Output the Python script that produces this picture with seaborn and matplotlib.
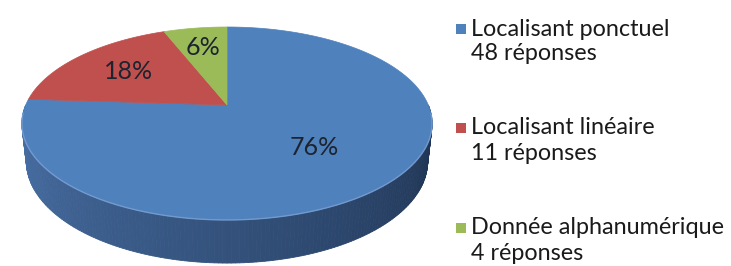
import numpy as np
import matplotlib
matplotlib.use("Agg")
import matplotlib.pyplot as plt
from matplotlib.patches import Rectangle
import seaborn as sns

# data
categories = ["Localisant ponctuel", "Localisant linéaire", "Donnée alphanumérique"]
responses = [48, 11, 4]
percents = [76, 18, 6]

sns.set_theme(style="white")
plt.rcParams["font.family"] = ["Lato", "DejaVu Sans"]
colors = sns.color_palette(["#4f81bd", "#c0504d", "#9bbb59"])

# perspective settings for the 3D-looking pie
elev = np.radians(27.5)
dist = 4.63
focal = 932
thick = 0.214
cx, cy = 227, 105


def proj(X, Y, Z):
    s, c = np.sin(elev), np.cos(elev)
    yc = Y * s + Z * c
    zc = dist + Y * c - Z * s
    return cx + focal * X / zc, cy - focal * yc / zc


fig = plt.figure(figsize=(7.31, 2.66), dpi=100)
ax = fig.add_axes([0, 0, 1, 1])
ax.set_xlim(0, 731)
ax.set_ylim(266, 0)
ax.axis("off")

# side wall, front half, shaded from left to right
wall_left = np.array([75, 116, 171]) / 255
wall_right = np.array([28, 47, 76]) / 255
edges = np.radians(np.linspace(180, 360, 181))
strips = []
for t0, t1 in zip(edges[:-1], edges[1:]):
    tm = (t0 + t1) / 2
    f = (tm - np.pi) / np.pi
    col = wall_left * (1 - f) + wall_right * f
    xs, ys = [], []
    for t, z in [(t0, 0), (t1, 0), (t1, -thick), (t0, -thick)]:
        x, y = proj(np.cos(t), np.sin(t), z)
        xs.append(x)
        ys.append(y)
    strips.append((np.sin(tm), xs, ys, col))
for _, xs, ys, col in sorted(strips, key=lambda s: -s[0]):
    ax.fill(xs, ys, color=col, lw=0.6, ec=col)

# top face wedges, clockwise from 12 o'clock
start = 90.0
label_r = [0.58, 0.65, 0.72]
for pct, col, r in zip(percents, colors, label_r):
    span = 360 * pct / sum(percents)
    th = np.radians(np.linspace(start, start - span, 200))
    px, py = proj(np.r_[0, np.cos(th)], np.r_[0, np.sin(th)], 0)
    ax.fill(px, py, color=col, lw=0.5, ec=col)
    mid = np.radians(start - span / 2)
    lx, ly = proj(r * np.cos(mid), r * np.sin(mid), 0)
    ax.text(lx, ly, f"{pct}%", ha="center", va="center",
            fontsize=18, color="#1c2430")
    start -= span

# soft highlight along the front rim
th = np.radians(np.linspace(185, 355, 200))
hx, hy = proj(np.cos(th), np.sin(th), 0)
ax.plot(hx, hy, color="#7da2d4", lw=1.0, alpha=0.8)

# legend drawn by hand so the square sits on the first line
leg_y = [29, 128, 228]
for cat, n, col, y in zip(categories, responses, colors, leg_y):
    ax.add_patch(Rectangle((456, y - 5), 10, 10, color=col, lw=0))
    ax.text(471, y, cat, ha="left", va="center", fontsize=16.8, color="#1a1a1a")
    ax.text(471, y + 25, f"{n} réponses", ha="left", va="center",
            fontsize=16.8, color="#1a1a1a")

fig.savefig("out.png", dpi=100)
